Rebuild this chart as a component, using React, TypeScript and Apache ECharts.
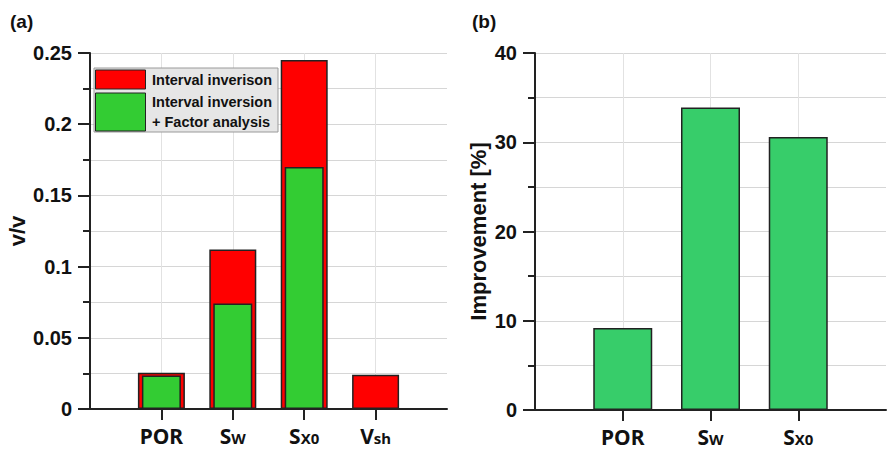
import React, { useEffect, useRef } from "react";
import * as echarts from "echarts";

// ---- data ----
const leftCategories = ["", "POR", "Sw", "Sx0", "Vsh", ""];
const intervalInversion = ["-", 0.0255, 0.112, 0.245, 0.024, "-"];
const intervalFactor = ["-", 0.0235, 0.074, 0.17, "-", "-"];
const rightCategories = ["", "POR", "Sw", "Sx0", ""];
const improvement = ["-", 9.2, 33.9, 30.6, "-"];
const legendLabels = ["Interval inverison", "Interval inversion", "+ Factor analysis"];

const AXIS_FONT = "'Liberation Sans', Arial, sans-serif";
const CAT_FONT = "'Noto Sans', 'Open Sans', sans-serif";
const DARK = "#222";

const catFormatter = (v: string) => {
  if (v === "Sw") return "{m|S}{s|W}";
  if (v === "Sx0") return "{m|S}{s|X0}";
  if (v === "Vsh") return "{m|V}{s|sh}";
  return v ? `{m|${v}}` : "";
};

const catRich = {
  m: { fontFamily: CAT_FONT, fontWeight: "bold", fontSize: 21, color: "#111", lineHeight: 24, verticalAlign: "bottom" },
  s: { fontFamily: CAT_FONT, fontWeight: "bold", fontSize: 15, color: "#111", lineHeight: 20, verticalAlign: "bottom", padding: [0, 0, 1, 0] },
};

function makeCatAxis(gridIndex: number, data: string[], show: boolean) {
  const n = data.length;
  const inner = (i: number) => i > 0 && i < n - 1;
  return {
    type: "category",
    gridIndex,
    data,
    show,
    boundaryGap: false,
    axisLine: { show: true, lineStyle: { color: DARK, width: 2 } },
    axisTick: { show: true, length: 11, lineStyle: { color: DARK, width: 2 }, interval: (i: number) => inner(i) },
    splitLine: { show: true, interval: (i: number) => inner(i), lineStyle: { color: "#e2e2e2", width: 1 } },
    axisLabel: { interval: 0, margin: 13, formatter: catFormatter, rich: catRich },
  };
}

function makeValAxis(gridIndex: number, max: number, interval: number, name: string, nameGap: number, fmt: (v: number) => string) {
  return {
    type: "value",
    gridIndex,
    min: 0,
    max,
    interval,
    name,
    nameLocation: "middle",
    nameGap,
    nameRotate: 90,
    nameTextStyle: { fontFamily: AXIS_FONT, fontWeight: "bold", fontSize: 22, color: "#111" },
    axisLine: { show: true, lineStyle: { color: DARK, width: 2 } },
    axisTick: { show: true, length: 12, lineStyle: { color: DARK, width: 2 } },
    minorTick: { show: true, splitNumber: 2, length: 7, lineStyle: { color: DARK, width: 2 } },
    splitLine: { show: true, lineStyle: { color: "#d6d6d6", width: 1 } },
    minorSplitLine: { show: true, lineStyle: { color: "#d6d6d6", width: 1 } },
    axisLabel: {
      fontFamily: AXIS_FONT,
      fontWeight: "bold",
      fontSize: 20,
      color: "#111",
      margin: 18,
      formatter: fmt,
    },
  };
}

export default function App() {
  const ref = useRef<HTMLDivElement>(null);
  useEffect(() => {
    if (!ref.current) return;
    const chart = echarts.init(ref.current, undefined, { renderer: "svg" });
    const legendFont = `bold 14.5px ${AXIS_FONT}`;
    const LZ = 100;
    chart.setOption({
      animation: false,
      backgroundColor: "#ffffff",
      grid: [
        { left: 90, top: 53, right: 442, bottom: 40 },
        { left: 535, top: 53, right: -3, bottom: 39 },
      ],
      xAxis: [
        makeCatAxis(0, leftCategories, true),
        { ...makeCatAxis(0, leftCategories, false) },
        makeCatAxis(1, rightCategories, true),
      ],
      yAxis: [
        makeValAxis(0, 0.25, 0.05, "v/v", 62, (v: number) => (v === 0 ? "0" : String(+v.toFixed(2)))),
        makeValAxis(1, 40, 10, "Improvement [%]", 46, (v: number) => String(v)),
      ],
      series: [
        {
          type: "bar",
          name: legendLabels[0],
          xAxisIndex: 0,
          yAxisIndex: 0,
          data: intervalInversion,
          barWidth: 47,
          itemStyle: { color: "#ff0000", borderColor: DARK, borderWidth: 1.5 },
        },
        {
          type: "bar",
          name: legendLabels[1] + " " + legendLabels[2],
          xAxisIndex: 1,
          yAxisIndex: 0,
          data: intervalFactor,
          barWidth: 39,
          itemStyle: { color: "#33cc33", borderColor: DARK, borderWidth: 1.5 },
        },
        {
          type: "bar",
          name: "Improvement",
          xAxisIndex: 2,
          yAxisIndex: 1,
          data: improvement,
          barWidth: 59,
          itemStyle: { color: "#37cd6a", borderColor: DARK, borderWidth: 1.5 },
        },
      ],
      graphic: [
        { type: "text", left: 10, top: 12, z: LZ, style: { text: "(a)", font: `bold 19px ${AXIS_FONT}`, fill: "#111" } },
        { type: "text", left: 472, top: 12, z: LZ, style: { text: "(b)", font: `bold 19px ${AXIS_FONT}`, fill: "#111" } },
        { type: "rect", z: LZ, shape: { x: 94, y: 68, width: 184, height: 64 }, style: { fill: "#e6e6e6", stroke: "#9a9a9a", lineWidth: 1 } },
        { type: "rect", z: LZ + 1, shape: { x: 95.5, y: 70, width: 50, height: 19 }, style: { fill: "#ff0000", stroke: DARK, lineWidth: 1 } },
        { type: "rect", z: LZ + 1, shape: { x: 95.5, y: 93, width: 50, height: 38 }, style: { fill: "#33cc33", stroke: DARK, lineWidth: 1 } },
        { type: "text", z: LZ + 1, x: 152, y: 80, style: { text: legendLabels[0], font: legendFont, fill: "#111", verticalAlign: "middle" } },
        { type: "text", z: LZ + 1, x: 152, y: 102, style: { text: legendLabels[1], font: legendFont, fill: "#111", verticalAlign: "middle" } },
        { type: "text", z: LZ + 1, x: 152, y: 122, style: { text: legendLabels[2], font: legendFont, fill: "#111", verticalAlign: "middle" } },
      ],
    });
    return () => chart.dispose();
  }, []);
  return <div ref={ref} style={{ position: "fixed", left: 0, top: 0, width: 889, height: 449 }} />;
}
